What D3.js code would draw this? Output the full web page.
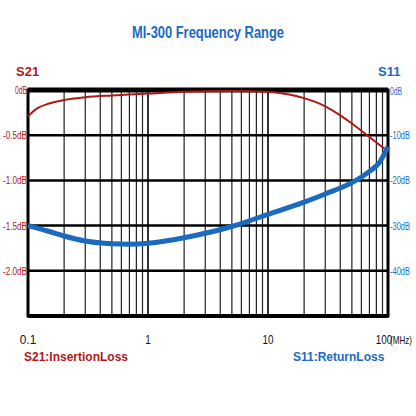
<!DOCTYPE html><html><head><script src="https://d3js.org/d3.v7.min.js"></script>
<style>body{margin:0;background:#fff}</style></head><body><script>
const freqTicks=[0.1,1,10,100];
const leftTicks=[0,-0.5,-1.0,-1.5,-2.0];
const leftLabels=["0dB","-0.5dB","-1.0dB","-1.5dB","-2.0dB"];
const rightTicks=[0,-10,-20,-30,-40];
const rightLabels=["0dB","-10dB","-20dB","-30dB","-40dB"];
const s21F=[0.1,0.12,0.15,0.2,0.3,0.5,1,2,5,10,15,20,30,40,50,70,100];
const s21V=[-0.29,-0.2,-0.15,-0.11,-0.08,-0.06,-0.04,-0.02,-0.01,-0.02,-0.05,-0.09,-0.18,-0.28,-0.37,-0.52,-0.68];
const s11F=[0.1,0.15,0.2,0.3,0.5,0.7,1,2,3,5,10,20,30,50,70,85,100];
const s11V=[-30,-31.3,-32.3,-33.4,-34,-34.1,-33.9,-32.7,-31.7,-30.2,-27.5,-24.8,-23,-20.5,-18,-16,-12.5];
const svg=d3.select("body").append("svg").attr("width",416).attr("height",416);
const x=d3.scaleLog().domain([0.1,100]).range([28,388]);
const yl=d3.scaleLinear().domain([0,-2.5]).range([90,316]);
const yr=d3.scaleLinear().domain([0,-50]).range([90,316]);
const g=svg.append("g");
const minor=[];for(let d of [0.1,1,10])for(let k=2;k<=9;k++)minor.push(d*k);
g.selectAll(".v").data(minor).join("line").attr("x1",d=>x(d)).attr("x2",d=>x(d)).attr("y1",90).attr("y2",316).attr("stroke","#222").attr("stroke-width",1.2);
g.selectAll(".V").data([1,10]).join("line").attr("x1",d=>x(d)).attr("x2",d=>x(d)).attr("y1",90).attr("y2",316).attr("stroke","#000").attr("stroke-width",1.6);
g.selectAll(".h").data(leftTicks.slice(1)).join("line").attr("x1",28).attr("x2",388).attr("y1",d=>yl(d)).attr("y2",d=>yl(d)).attr("stroke","#000").attr("stroke-width",2.5);
g.append("rect").attr("x",28).attr("y",90).attr("width",360).attr("height",226).attr("fill","none").attr("stroke","#000").attr("stroke-width",3);
g.append("line").attr("x1",28).attr("x2",388).attr("y1",90).attr("y2",90).attr("stroke","#000").attr("stroke-width",5);
g.append("line").attr("x1",28).attr("x2",388).attr("y1",316).attr("y2",316).attr("stroke","#000").attr("stroke-width",4);
const l21=d3.line().x((d,i)=>x(s21F[i])).y(d=>yl(d)).curve(d3.curveMonotoneX);
const l11=d3.line().x((d,i)=>x(s11F[i])).y(d=>yr(d)).curve(d3.curveMonotoneX);
svg.append("path").attr("d",l21(s21V)).attr("fill","none").attr("stroke","#b01818").attr("stroke-width",2);
svg.append("path").attr("d",l11(s11V)).attr("fill","none").attr("stroke","#1a6ac0").attr("stroke-width",5);
const cf="'Liberation Sans',sans-serif";
function cond(sel,f){sel.each(function(){const t=d3.select(this);const n=t.text().length;t.attr("textLength",n*f).attr("lengthAdjust","spacingAndGlyphs");});}
svg.selectAll(".lt").data(leftTicks).join("text").attr("x",27).attr("y",d=>yl(d)+4).attr("text-anchor","end").attr("font-family",cf).attr("font-size",10).attr("fill","#b01818").text((d,i)=>leftLabels[i]).call(cond,4);
svg.selectAll(".rt").data(rightTicks).join("text").attr("x",390).attr("y",(d,i)=>yr(d)+(i?4:5)).attr("font-family",cf).attr("font-size",10).attr("fill","#1a6ac0").text((d,i)=>rightLabels[i]).call(cond,4);
svg.selectAll(".xt").data(freqTicks).join("text").attr("x",d=>d===100?x(d)-4:x(d)).attr("y",344).attr("text-anchor","middle").attr("font-family",cf).attr("font-size",13).attr("fill","#111").text(d=>String(d)).call(cond,5.5);
svg.append("text").attr("x",390).attr("y",344).attr("font-family",cf).attr("font-size",11).attr("fill","#111").text("(MHz)").attr("textLength",22).attr("lengthAdjust","spacingAndGlyphs");
svg.append("text").attr("x",208).attr("y",38).attr("text-anchor","middle").attr("font-family",cf).attr("font-weight","bold").attr("font-size",16).attr("fill","#1a6ac0").text("MI-300 Frequency Range").attr("textLength",152).attr("lengthAdjust","spacingAndGlyphs");
svg.append("text").attr("x",16).attr("y",76).attr("font-family",cf).attr("font-weight","bold").attr("font-size",13).attr("fill","#b01818").text("S21");
svg.append("text").attr("x",378).attr("y",76).attr("font-family",cf).attr("font-weight","bold").attr("font-size",13).attr("fill","#1a6ac0").text("S11");
svg.append("text").attr("x",24).attr("y",361).attr("font-family",cf).attr("font-weight","bold").attr("font-size",12).attr("fill","#b01818").text("S21:InsertionLoss");
svg.append("text").attr("x",293).attr("y",361).attr("font-family",cf).attr("font-weight","bold").attr("font-size",12).attr("fill","#1a6ac0").text("S11:ReturnLoss");
</script></body></html>
